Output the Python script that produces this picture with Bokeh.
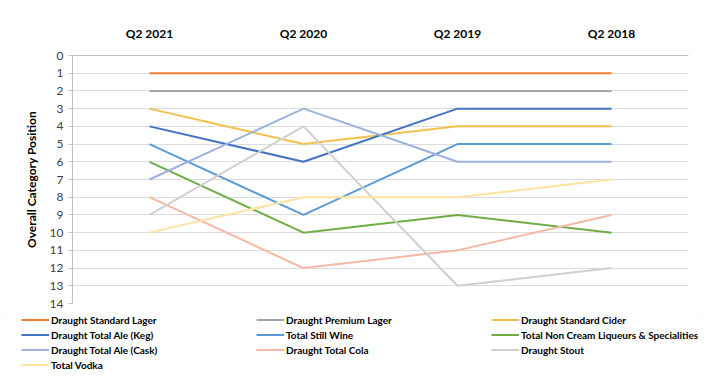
from bokeh.plotting import figure
from bokeh.layouts import column
from bokeh.models import FactorRange, Range1d, FixedTicker, Legend, LegendItem
from bokeh.embed import file_html
from bokeh.resources import INLINE

categories = ["Q2 2021", "Q2 2020", "Q2 2019", "Q2 2018"]

series_names = [
    "Draught Standard Lager",
    "Draught Premium Lager",
    "Draught Standard Cider",
    "Draught Total Ale (Keg)",
    "Total Still Wine",
    "Total Non Cream Liqueurs & Specialities",
    "Draught Total Ale (Cask)",
    "Draught Total Cola",
    "Draught Stout",
    "Total Vodka",
]

standard_lager = [1, 1, 1, 1]
premium_lager = [2, 2, 2, 2]
standard_cider = [3, 5, 4, 4]
total_ale_keg = [4, 6, 3, 3]
still_wine = [5, 9, 5, 5]
liqueurs = [6, 10, 9, 10]
total_ale_cask = [7, 3, 6, 6]
total_cola = [8, 12, 11, 9]
stout = [9, 4, 13, 12]
vodka = [10, 8, 8, 7]

series_values = [standard_lager, premium_lager, standard_cider, total_ale_keg,
                 still_wine, liqueurs, total_ale_cask, total_cola, stout, vodka]

colors = ["#ED7D31", "#A5A5A5", "#F2C14E", "#4472C4", "#5B9BD5",
          "#70AD47", "#9DB0DE", "#F4B8A4", "#CFCFCF", "#FFE3A0"]

y_ticks = list(range(0, 15))

FONT = "Lato"
AXIS_GREY = "#BFBFBF"

W = 704

p = figure(
    width=W, height=312,
    x_range=FactorRange(*categories, range_padding=0),
    y_range=Range1d(start=14, end=0),
    x_axis_location="above",
    output_backend="svg", toolbar_location=None,
    min_border_left=72, min_border_right=16, min_border_top=55, min_border_bottom=9,
)
p.outline_line_color = None
p.background_fill_color = "white"
p.border_fill_color = "white"

# grid
p.xgrid.grid_line_color = None
p.ygrid.grid_line_color = "#DCDCDC"
p.ygrid.grid_line_width = 1
p.yaxis.ticker = FixedTicker(ticks=y_ticks)

# y axis
p.yaxis.axis_label = "Overall Category Position"
p.yaxis.axis_label_text_font = FONT
p.yaxis.axis_label_text_font_style = "bold"
p.yaxis.axis_label_text_font_size = "12px"
p.yaxis.axis_label_text_color = "#000000"
p.yaxis.axis_label_standoff = 8
p.yaxis.major_label_text_font = FONT
p.yaxis.major_label_text_font_size = "12px"
p.yaxis.major_label_text_color = "#404040"
p.yaxis.major_label_standoff = 5
p.yaxis.axis_line_color = AXIS_GREY
p.yaxis.major_tick_line_color = AXIS_GREY
p.yaxis.major_tick_out = 4
p.yaxis.major_tick_in = 0
p.yaxis.minor_tick_line_color = None

# top category axis
p.xaxis.major_label_text_font = FONT
p.xaxis.major_label_text_font_style = "bold"
p.xaxis.major_label_text_font_size = "12px"
p.xaxis.major_label_text_color = "#000000"
p.xaxis.major_label_standoff = 9
p.xaxis.axis_line_color = AXIS_GREY
p.xaxis.major_tick_line_color = None

for vals, col in zip(series_values, colors):
    p.line(x=categories, y=vals, line_color=col, line_width=2)

# legend panel below the chart
lg = figure(
    width=W, height=69,
    x_range=Range1d(0, 1), y_range=Range1d(0, 1),
    x_axis_type=None, y_axis_type=None,
    output_backend="svg", toolbar_location=None,
    min_border_left=0, min_border_right=0, min_border_top=0, min_border_bottom=0,
)
lg.outline_line_color = None
lg.grid.grid_line_color = None
lg.border_fill_color = "white"
lg.background_fill_color = "white"
for fig in (p, lg):
    try:
        fig.frame_align = False
    except Exception:
        pass

nan = float("nan")
items = []
for name, col in zip(series_names, colors):
    r = lg.line(x=[nan, nan], y=[nan, nan], line_color=col, line_width=2)
    items.append(LegendItem(label=name, renderers=[r]))

legend = Legend(
    items=items,
    location=(21, 9),
    orientation="horizontal",
    ncols=3,
    glyph_width=28, glyph_height=15,
    label_height=15, label_width=205,
    label_standoff=2, spacing=0, padding=0, margin=0,
    label_text_font=FONT, label_text_font_style="bold",
    label_text_font_size="10px", label_text_color="#000000",
    border_line_color=None, background_fill_alpha=0,
)
lg.add_layout(legend, "center")

layout = column(p, lg, spacing=0,
                styles={"outline": "1px solid #d4d4d4", "outline-offset": "-2px"})

open("out.html", "w").write(file_html(layout, INLINE))
